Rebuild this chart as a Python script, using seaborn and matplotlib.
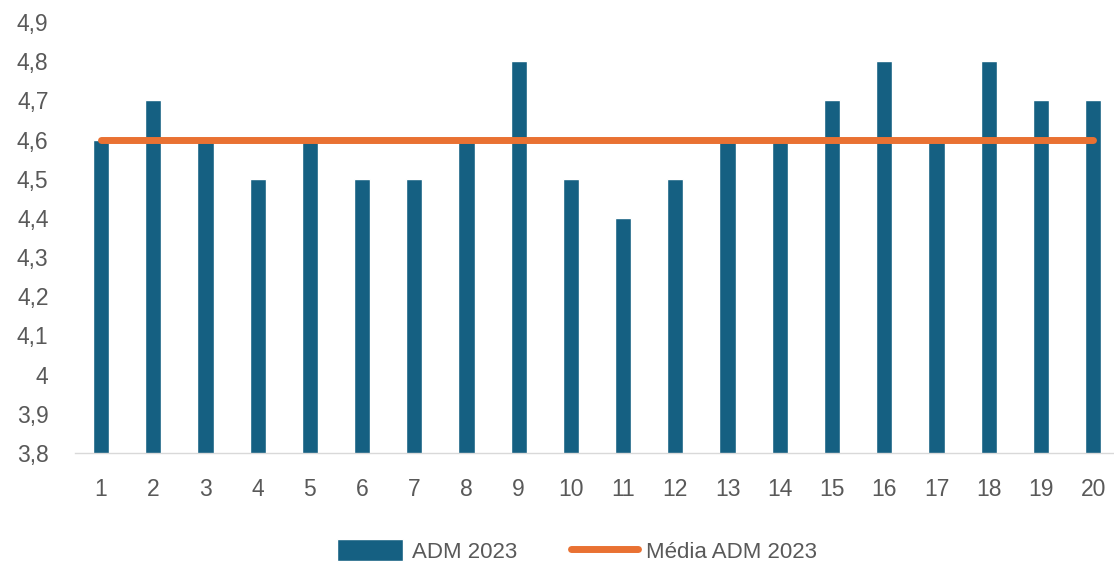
import matplotlib
matplotlib.use("Agg")
import matplotlib.pyplot as plt
import seaborn as sns
import pandas as pd
import numpy as np
from matplotlib.ticker import FuncFormatter

# data
categorias = [str(i) for i in range(1, 21)]
adm_2023 = [4.6, 4.7, 4.6, 4.5, 4.6, 4.5, 4.5, 4.6, 4.8, 4.5,
            4.4, 4.5, 4.6, 4.6, 4.7, 4.8, 4.6, 4.8, 4.7, 4.7]
media_adm_2023 = [4.6] * 20
y_ticks = [3.8, 3.9, 4.0, 4.1, 4.2, 4.3, 4.4, 4.5, 4.6, 4.7, 4.8, 4.9]

df = pd.DataFrame({
    "categoria": categorias,
    "adm": adm_2023,
    "media": media_adm_2023,
})
df["pos"] = np.arange(len(df))

sns.set_style("white")
plt.rcParams['font.family'] = ['Liberation Sans', 'DejaVu Sans']

fig = plt.figure(figsize=(11.14, 5.66), dpi=100)
ax = fig.add_axes([0.0673, 0.1996, 0.9327, 0.7615])

sns.barplot(data=df, x="categoria", y="adm", color="#156082", saturation=1,
            width=0.31, ax=ax, label="ADM 2023")
sns.lineplot(data=df, x="pos", y="media", color="#E97132", linewidth=5,
             solid_capstyle="round", ax=ax, label="Média ADM 2023")

ax.set_ylim(3.8, 4.9)
ax.set_xlim(-0.498, 19.4)
ax.set_yticks(y_ticks)
ax.yaxis.set_major_formatter(FuncFormatter(
    lambda v, p: ("%.1f" % v).rstrip("0").rstrip(".").replace(".", ",")))
ax.set_xticks(df["pos"])
ax.set_xticklabels(categorias)
ax.set_xlabel("")
ax.set_ylabel("")
ax.tick_params(axis="both", length=0, labelsize=16.5, colors="#595959")
ax.tick_params(axis="x", pad=18)
ax.tick_params(axis="y", pad=19)

for s in ["top", "right", "left"]:
    ax.spines[s].set_visible(False)
ax.spines["bottom"].set_color("#D9D9D9")
ax.spines["bottom"].set_linewidth(1)

handles, labels = ax.get_legend_handles_labels()
order = [labels.index("ADM 2023"), labels.index("Média ADM 2023")]
ax.legend([handles[i] for i in order], [labels[i] for i in order],
          loc="center", bbox_to_anchor=(0.518, 1 - 551 / 566), bbox_transform=fig.transFigure,
          ncol=2, frameon=False, fontsize=16, labelcolor="#595959",
          handlelength=3.0, handleheight=1.1, handletextpad=0.4, columnspacing=2.4)

fig.savefig("out.png", dpi=100)
